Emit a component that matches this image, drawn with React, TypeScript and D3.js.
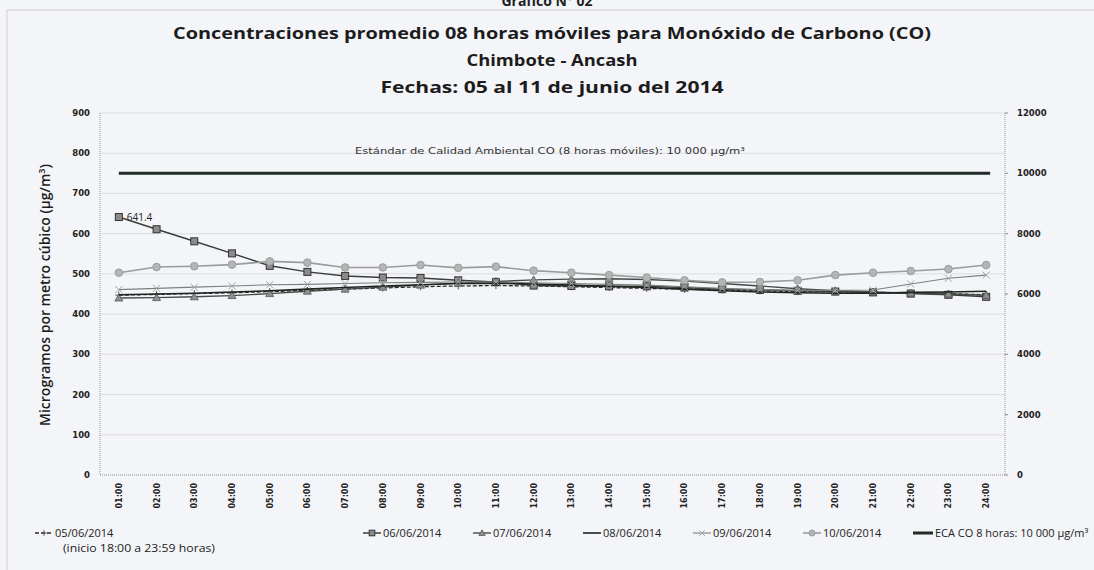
import React, { useEffect, useRef } from 'react'
import * as d3 from 'd3'

// horas del eje X
const hours = [
  '01:00', '02:00', '03:00', '04:00', '05:00', '06:00', '07:00', '08:00',
  '09:00', '10:00', '11:00', '12:00', '13:00', '14:00', '15:00', '16:00',
  '17:00', '18:00', '19:00', '20:00', '21:00', '22:00', '23:00', '24:00',
]

// promedios 8h moviles (ug/m3)
const d0506 = [447, 449, 451, 453, 456, 459, 462, 465, 468, 470, 471, 470, 468, 466, 464, 462, 460, 458, 456, 455, 454, 453, 451, 448]
const d0606 = [641.4, 611, 581, 551, 520, 505, 495, 491, 490, 484, 480, 471, 470, 469, 469, 466, 462, 460, 458, 456, 454, 451, 448, 443]
const d0706 = [440, 441, 443, 446, 451, 457, 462, 467, 472, 477, 481, 485, 487, 488, 486, 482, 476, 470, 463, 458, 455, 452, 450, 447]
const d0806 = [448, 450, 452, 455, 458, 462, 466, 470, 473, 476, 477, 475, 472, 469, 466, 462, 458, 455, 453, 452, 452, 454, 455, 457]
const d0906 = [461, 464, 467, 470, 473, 474, 476, 478, 479, 480, 480, 478, 476, 474, 472, 468, 464, 461, 459, 459, 460, 475, 489, 497]
const d1006 = [503, 517, 519, 523, 531, 528, 516, 516, 522, 515, 518, 508, 503, 497, 491, 484, 479, 480, 484, 497, 503, 507, 512, 522]
const ecaValue = 10000

const leftTicks = [0, 100, 200, 300, 400, 500, 600, 700, 800, 900]
const rightTicks = [0, 2000, 4000, 6000, 8000, 10000, 12000]

const series = [
  { name: '05/06/2014', values: d0506, color: '#2b2b2b', width: 1.3, dash: '4,2', marker: 'plus' },
  { name: '06/06/2014', values: d0606, color: '#3a3d3b', width: 1.5, dash: null, marker: 'square' },
  { name: '07/06/2014', values: d0706, color: '#444a46', width: 1.4, dash: null, marker: 'triangle' },
  { name: '08/06/2014', values: d0806, color: '#1e2420', width: 1.6, dash: null, marker: 'none' },
  { name: '09/06/2014', values: d0906, color: '#7d7f7e', width: 1.1, dash: null, marker: 'x' },
  { name: '10/06/2014', values: d1006, color: '#9a9c9b', width: 1.6, dash: null, marker: 'circle' },
]

const W = 1094
const H = 570
const margin = { left: 100, right: 89, top: 113, bottom: 95 }

const drawMarker = (g, type, x, y, s = 1) => {
  if (type === 'square') {
    g.append('rect').attr('x', x - 3.5 * s).attr('y', y - 3.5 * s).attr('width', 7 * s).attr('height', 7 * s)
      .attr('fill', '#8a8c8b').attr('stroke', '#333').attr('stroke-width', 1)
  } else if (type === 'circle') {
    g.append('circle').attr('cx', x).attr('cy', y).attr('r', 3.8 * s)
      .attr('fill', '#b4b6b5').attr('stroke', '#9a9c9b').attr('stroke-width', 1)
  } else if (type === 'triangle') {
    const p = d3.path()
    p.moveTo(x, y - 4 * s); p.lineTo(x + 4 * s, y + 3 * s); p.lineTo(x - 4 * s, y + 3 * s); p.closePath()
    g.append('path').attr('d', p.toString()).attr('fill', '#8e928f').attr('stroke', '#555').attr('stroke-width', 0.8)
  } else if (type === 'x') {
    g.append('path').attr('d', `M${x - 3.5 * s},${y - 3.5 * s}L${x + 3.5 * s},${y + 3.5 * s}M${x - 3.5 * s},${y + 3.5 * s}L${x + 3.5 * s},${y - 3.5 * s}`)
      .attr('stroke', '#a3a5a4').attr('stroke-width', 1)
  } else if (type === 'plus') {
    g.append('path').attr('d', `M${x - 3.5 * s},${y}L${x + 3.5 * s},${y}M${x},${y - 3.5 * s}L${x},${y + 3.5 * s}`)
      .attr('stroke', '#555').attr('stroke-width', 1)
  }
}

const Chart = () => {
  const ref = useRef(null)

  useEffect(() => {
    const svg = d3.select(ref.current)
    svg.selectAll('*').remove()

    const bodyWidth = W - margin.left - margin.right
    const bodyHeight = H - margin.top - margin.bottom

    const xScale = d3.scalePoint().domain(hours).range([0, bodyWidth]).padding(0.5)
    const yScale = d3.scaleLinear().domain([0, 900]).range([bodyHeight, 0])
    const y2Scale = d3.scaleLinear().domain([0, 12000]).range([bodyHeight, 0])

    // fondo escaneado
    svg.append('rect').attr('width', W).attr('height', H).attr('fill', '#f4f5f8')
    svg.append('line').attr('x1', 7).attr('x2', W).attr('y1', 10).attr('y2', 10).attr('stroke', '#c9c9cc')
    svg.append('line').attr('x1', 7).attr('x2', 7).attr('y1', 10).attr('y2', H).attr('stroke', '#d0d0d3')

    // titulos
    const titleFont = '"Open Sans", "Liberation Sans", sans-serif'
    svg.append('text').attr('x', 547).attr('y', 6).attr('text-anchor', 'middle')
      .style('font-family', titleFont).style('font-weight', 700).style('font-size', '14px').attr('fill', '#222')
      .text('Gráfico N° 02')
    const titles = [
      { t: 'Concentraciones promedio 08 horas móviles para Monóxido de Carbono (CO)', y: 39, w: 758 },
      { t: 'Chimbote - Ancash', y: 66, w: 171 },
      { t: 'Fechas: 05 al 11 de junio del 2014', y: 93, w: 343 },
    ]
    titles.forEach((d) => {
      svg.append('text').attr('x', 552).attr('y', d.y).attr('text-anchor', 'middle')
        .attr('textLength', d.w).attr('lengthAdjust', 'spacingAndGlyphs')
        .style('font-family', titleFont).style('font-weight', 700).style('font-size', '16px').attr('fill', '#1c1c1c')
        .text(d.t)
    })

    const body = svg.append('g').attr('transform', `translate(${margin.left},${margin.top})`)

    // grilla
    body.append('g').selectAll('line').data(leftTicks.slice(1)).join('line')
      .attr('x1', 0).attr('x2', bodyWidth)
      .attr('y1', (d) => yScale(d)).attr('y2', (d) => yScale(d))
      .attr('stroke', '#dcdde0').attr('stroke-width', 1)

    // ejes
    body.append('line').attr('x1', 0).attr('x2', 0).attr('y1', 0).attr('y2', bodyHeight)
      .attr('stroke', '#9a9a9d').attr('stroke-dasharray', '1,1')
    body.append('line').attr('x1', bodyWidth).attr('x2', bodyWidth).attr('y1', 0).attr('y2', bodyHeight)
      .attr('stroke', '#9a9a9d').attr('stroke-dasharray', '1,1')
    body.append('line').attr('x1', 0).attr('x2', bodyWidth).attr('y1', bodyHeight).attr('y2', bodyHeight)
      .attr('stroke', '#8f8f92').attr('stroke-dasharray', '1,1')

    const tickFont = '"DejaVu Sans", Verdana, sans-serif'
    body.append('g').selectAll('text').data(leftTicks).join('text')
      .attr('x', -10).attr('y', (d) => yScale(d)).attr('dy', '0.35em').attr('text-anchor', 'end')
      .style('font-family', tickFont).style('font-weight', 700).style('font-size', '8.5px').attr('fill', '#222')
      .text((d) => d)
    const rt = body.append('g').attr('transform', `translate(${bodyWidth},0)`)
    rt.selectAll('line').data(rightTicks).join('line')
      .attr('x1', 0).attr('x2', 3).attr('y1', (d) => y2Scale(d)).attr('y2', (d) => y2Scale(d))
      .attr('stroke', '#888')
    rt.selectAll('text').data(rightTicks).join('text')
      .attr('x', 12).attr('y', (d) => y2Scale(d)).attr('dy', '0.35em')
      .style('font-family', tickFont).style('font-weight', 700).style('font-size', '8.5px').attr('fill', '#222')
      .text((d) => d)

    body.append('g').selectAll('text').data(hours).join('text')
      .attr('transform', (d) => `translate(${xScale(d) + 3},${bodyHeight + 8}) rotate(-90)`)
      .attr('text-anchor', 'end')
      .style('font-family', tickFont).style('font-weight', 700).style('font-size', '8px').attr('fill', '#222')
      .text((d) => d)

    // titulo eje Y
    const yl = svg.append('text').attr('transform', `translate(50,295) rotate(-90)`)
      .attr('text-anchor', 'middle')
      .style('font-family', titleFont).style('font-weight', 600).style('font-size', '14px').attr('fill', '#1c1c1c')
    yl.append('tspan').text('Microgramos por metro cúbico (µg/m')
    yl.append('tspan').attr('dy', -5).style('font-size', '9px').text('3')
    yl.append('tspan').attr('dy', 5).text(')')

    // linea ECA
    const first = xScale(hours[0])
    const last = xScale(hours[hours.length - 1])
    body.append('line').attr('x1', first).attr('x2', last + 4)
      .attr('y1', y2Scale(ecaValue)).attr('y2', y2Scale(ecaValue))
      .attr('stroke', '#1f2b25').attr('stroke-width', 3)
    body.append('text').attr('x', 450).attr('y', y2Scale(ecaValue) - 19).attr('text-anchor', 'middle')
      .attr('textLength', 390).attr('lengthAdjust', 'spacingAndGlyphs')
      .style('font-family', tickFont).style('font-size', '9px').attr('fill', '#333')
      .text('Estándar de Calidad Ambiental CO (8 horas móviles): 10 000 µg/m³')

    // series
    const line = d3.line().x((d, i) => xScale(hours[i])).y((d) => yScale(d))
    series.forEach((s) => {
      const g = body.append('g')
      g.append('path').datum(s.values).attr('d', line).attr('fill', 'none')
        .attr('stroke', s.color).attr('stroke-width', s.width)
        .attr('stroke-dasharray', s.dash)
      s.values.forEach((v, i) => drawMarker(g, s.marker, xScale(hours[i]), yScale(v)))
    })

    // etiqueta 641.4
    body.append('text').attr('x', first + 8).attr('y', yScale(d0606[0]) + 4)
      .style('font-family', '"Open Sans", sans-serif').style('font-size', '10px').attr('fill', '#222')
      .text(d0606[0])

    // leyenda
    const legendFont = '"Open Sans", "Liberation Sans", sans-serif'
    const legendX = [35, 363, 473, 583, 693, 803]
    const lg = svg.append('g')
    series.forEach((s, i) => {
      const x0 = legendX[i]
      const y0 = 533
      lg.append('line').attr('x1', x0).attr('x2', x0 + 18).attr('y1', y0).attr('y2', y0)
        .attr('stroke', s.color).attr('stroke-width', s.width).attr('stroke-dasharray', s.dash)
      drawMarker(lg, s.marker, x0 + 9, y0, 0.8)
      lg.append('text').attr('x', x0 + 20).attr('y', y0 + 4)
        .style('font-family', legendFont).style('font-size', '11px').attr('fill', '#222')
        .text(s.name)
    })
    lg.append('text').attr('x', 63).attr('y', 552)
      .attr('textLength', 152).attr('lengthAdjust', 'spacingAndGlyphs')
      .style('font-family', legendFont).style('font-size', '11px').attr('fill', '#222')
      .text('(inicio 18:00 a 23:59 horas)')
    lg.append('line').attr('x1', 913).attr('x2', 933).attr('y1', 533).attr('y2', 533)
      .attr('stroke', '#1f2b25').attr('stroke-width', 3)
    lg.append('text').attr('x', 935).attr('y', 537)
      .style('font-family', legendFont).style('font-size', '11px').attr('fill', '#222')
      .text('ECA CO 8 horas: 10 000 µg/m³')
  }, [])

  return <svg ref={ref} width={W} height={H} style={{ position: 'absolute', left: 0, top: 0 }} />
}

export default function App() {
  return <Chart />
}
